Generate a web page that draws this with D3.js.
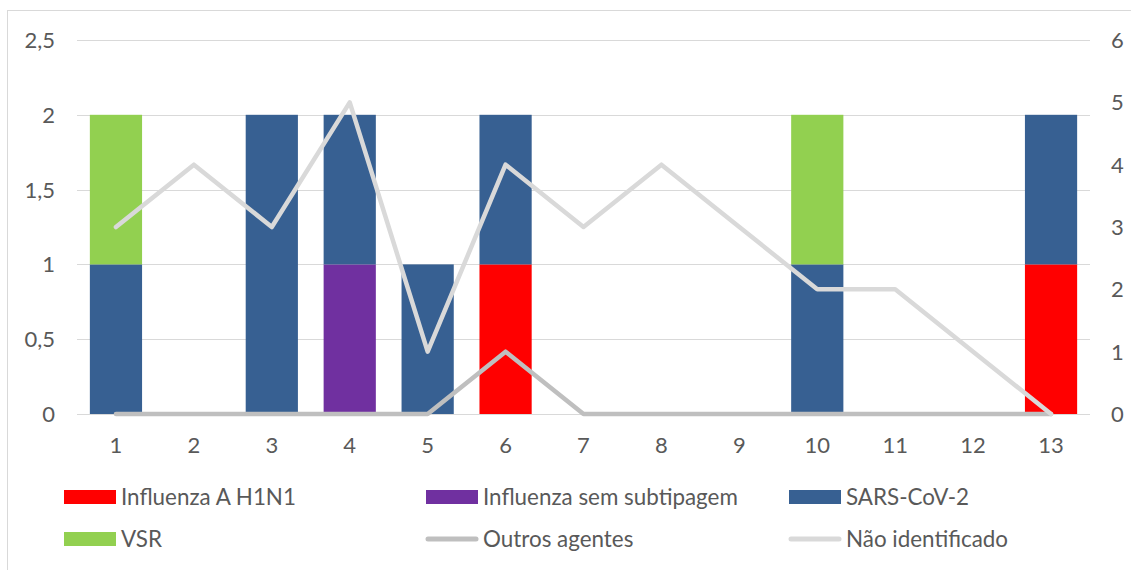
<!DOCTYPE html>
<html><head><meta charset="utf-8">
<script src="https://cdn.jsdelivr.net/npm/d3@7"></script>
<style>body{margin:0;background:#fff}svg{display:block}text{font-family:Lato,"Open Sans",sans-serif;fill:#595959}</style>
</head><body><svg id="c" width="1131" height="570"></svg>
<script>
const categories = ["1","2","3","4","5","6","7","8","9","10","11","12","13"];
const h1n1 = [0,0,0,0,0,1,0,0,0,0,0,0,1];
const semSubtipagem = [0,0,0,1,0,0,0,0,0,0,0,0,0];
const sarsCov2 = [1,0,2,1,1,1,0,0,0,1,0,0,1];
const vsr = [1,0,0,0,0,0,0,0,0,1,0,0,0];
const outrosAgentes = [0,0,0,0,0,1,0,0,0,0,0,0,0];
const naoIdentificado = [3,4,3,5,1,4,3,4,3,2,2,1,0];
const leftTicks = [0,0.5,1,1.5,2,2.5];
const rightTicks = [0,1,2,3,4,5,6];

const barSeries = [
  {name:"Influenza A H1N1", values:h1n1, color:"#FF0000"},
  {name:"Influenza sem subtipagem", values:semSubtipagem, color:"#7030A0"},
  {name:"SARS-CoV-2", values:sarsCov2, color:"#376092"},
  {name:"VSR", values:vsr, color:"#92D050"}
];
const lineSeries = [
  {name:"Outros agentes", values:outrosAgentes, color:"#BFBFBF"},
  {name:"Não identificado", values:naoIdentificado, color:"#D9D9D9"}
];

const svg = d3.select("#c");
const m = {l:77, r:1090, t:40, b:414};
svg.append("rect").attr("x",7.5).attr("y",10.5).attr("width",1140).attr("height",600)
  .attr("fill","none").attr("stroke","#D9D9D9");

const x = d3.scaleBand().domain(categories).range([m.l,m.r]).paddingInner(0.33).paddingOuter(0.165);
const yL = d3.scaleLinear().domain([0,2.5]).range([m.b,m.t]);
const yR = d3.scaleLinear().domain([0,6]).range([m.b,m.t]);
const xc = d => x(d) + x.bandwidth()/2;

// grid
svg.append("g").selectAll("line").data(leftTicks).join("line")
  .attr("x1",m.l).attr("x2",m.r).attr("y1",d=>Math.round(yL(d))+0.5).attr("y2",d=>Math.round(yL(d))+0.5)
  .attr("stroke","#D9D9D9").attr("stroke-width",1.2);

// stacked bars
const rows = categories.map((c,i)=>{const o={cat:c}; barSeries.forEach(s=>o[s.name]=s.values[i]); return o;});
const stack = d3.stack().keys(barSeries.map(s=>s.name))(rows);
stack.forEach((layer,k)=>{
  svg.append("g").selectAll("rect").data(layer.filter(d=>d[1]>d[0])).join("rect")
    .attr("x",d=>x(d.data.cat)).attr("width",x.bandwidth())
    .attr("y",d=>yL(d[1])).attr("height",d=>yL(d[0])-yL(d[1]))
    .attr("fill",barSeries[k].color);
});

// lines
const line = d3.line().x((d,i)=>xc(categories[i])).y(d=>yR(d));
lineSeries.forEach(s=>{
  svg.append("path").datum(s.values).attr("d",line).attr("fill","none")
    .attr("stroke",s.color).attr("stroke-width",4.5).attr("stroke-linejoin","round").attr("stroke-linecap","round");
});

// axes labels
const fs = 22;
svg.append("g").selectAll("text").data(leftTicks).join("text")
  .attr("x",55).attr("y",d=>yL(d)).attr("dy","0.36em").attr("text-anchor","end").attr("font-size",fs)
  .text(d=>d3.format(".1~f")(d).replace(".",","));
svg.append("g").selectAll("text").data(rightTicks).join("text")
  .attr("x",1111).attr("y",d=>yR(d)).attr("dy","0.36em").attr("text-anchor","start").attr("font-size",fs)
  .text(d=>d);
svg.append("g").selectAll("text").data(categories).join("text")
  .attr("x",d=>xc(d)).attr("y",445.5).attr("dy","0.36em").attr("text-anchor","middle").attr("font-size",fs)
  .text(d=>d);

// legend
const legendItems = [
  {name:barSeries[0].name,color:barSeries[0].color,type:"bar",col:0,row:0},
  {name:barSeries[1].name,color:barSeries[1].color,type:"bar",col:1,row:0},
  {name:barSeries[2].name,color:barSeries[2].color,type:"bar",col:2,row:0},
  {name:barSeries[3].name,color:barSeries[3].color,type:"bar",col:0,row:1},
  {name:lineSeries[0].name,color:lineSeries[0].color,type:"line",col:1,row:1},
  {name:lineSeries[1].name,color:lineSeries[1].color,type:"line",col:2,row:1}
];
const colX = [64,426,789], rowY = [497,539];
const lg = svg.append("g").selectAll("g").data(legendItems).join("g")
  .attr("transform",d=>`translate(${colX[d.col]},${rowY[d.row]})`);
lg.filter(d=>d.type==="bar").append("rect").attr("x",0).attr("y",-7).attr("width",52).attr("height",14).attr("fill",d=>d.color);
lg.filter(d=>d.type==="line").append("line").attr("x1",2).attr("x2",50).attr("y1",0).attr("y2",0)
  .attr("stroke",d=>d.color).attr("stroke-width",5).attr("stroke-linecap","round");
lg.append("text").attr("x",57).attr("y",0).attr("dy","0.36em").attr("font-size",22.4).text(d=>d.name);
</script></body></html>
